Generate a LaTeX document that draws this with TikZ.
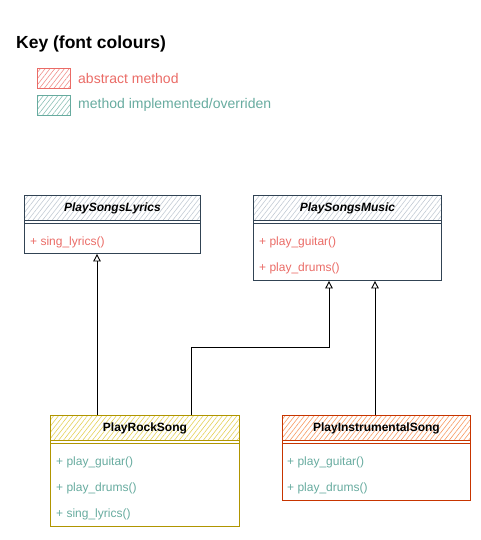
\documentclass[tikz,border=0pt]{standalone}
\usepackage{fontspec}
\setmainfont{Liberation Sans}
\usetikzlibrary{arrows.meta,patterns.meta}
\definecolor{absred}{HTML}{EA6B66}
\definecolor{impgreen}{HTML}{67AB9F}
\definecolor{blueStroke}{HTML}{314354}
\definecolor{blueHatch}{HTML}{C2CAD4}
\definecolor{yelStroke}{HTML}{B09500}
\definecolor{yelHatch}{HTML}{E4D158}
\definecolor{orStroke}{HTML}{C73500}
\definecolor{orHatch}{HTML}{F79A62}
\definecolor{redHatch}{HTML}{F08E8A}
\definecolor{greenHatch}{HTML}{8CC0B6}
\tikzset{
  box/.style={draw, line width=0.9pt, inner sep=0pt, anchor=north west, minimum width=#1},
  hdr/.style={draw, line width=0.9pt, inner sep=0pt, anchor=north west, minimum width=#1, minimum height=25pt,
     font=\bfseries\fontsize{12}{14}\selectfont},
  hatch/.style={pattern={Lines[angle=52,distance=3.8pt,line width=0.6pt]}, pattern color=#1},
  mem/.style={anchor=west, inner sep=0pt, font=\fontsize{12}{14}\selectfont},
  key/.style={anchor=west, inner sep=0pt, font=\fontsize{14}{16}\selectfont},
  swatch/.style={line width=0.8pt, inner sep=0pt, minimum width=33pt, minimum height=20pt, anchor=north west},
  inh/.style={draw=black, line width=0.9pt, -{Triangle[open, length=7.5pt, width=7.5pt, line width=0.9pt]}},
}
\begin{document}
\begin{tikzpicture}[x=1pt,y=-1pt]
\useasboundingbox (0,0) rectangle (480,540);

% Key
\node[anchor=west, inner sep=0pt, font=\bfseries\fontsize{17.5}{20}\selectfont] (title) at (16,44) {Key (font colours)};
\node[swatch, draw=absred, hatch=redHatch] (swR) at (37,68) {};
\node[key, text=absred] (keyR) at (78,78) {abstract method};
\node[swatch, draw=impgreen, hatch=greenHatch] (swG) at (37,95) {};
\node[key, text=impgreen] (keyG) at (78,105) {method implemented/overriden};

% PlaySongsLyrics
\node[box=176pt, draw=blueStroke, minimum height=58pt] (lyrics) at (24,195) {};
\node[hdr=176pt, draw=blueStroke, hatch=blueHatch] (lyricsH) at (24,195) {\textit{PlaySongsLyrics}};
\draw[blueStroke, line width=0.9pt] ([yshift=-3pt]lyricsH.south west) -- ([yshift=-3pt]lyricsH.south east);
\node[mem, text=absred] (lyricsM1) at (30,242) {+ sing\_lyrics()};

% PlaySongsMusic
\node[box=188pt, draw=blueStroke, minimum height=85pt] (music) at (253,195) {};
\node[hdr=188pt, draw=blueStroke, hatch=blueHatch] (musicH) at (253,195) {\textit{PlaySongsMusic}};
\draw[blueStroke, line width=0.9pt] ([yshift=-3pt]musicH.south west) -- ([yshift=-3pt]musicH.south east);
\node[mem, text=absred] (musicM1) at (259,242) {+ play\_guitar()};
\node[mem, text=absred] (musicM2) at (259,268) {+ play\_drums()};

% PlayRockSong
\node[box=189pt, draw=yelStroke, minimum height=111pt] (rock) at (50,415) {};
\node[hdr=189pt, draw=yelStroke, hatch=yelHatch] (rockH) at (50,415) {PlayRockSong};
\draw[yelStroke, line width=0.9pt] ([yshift=-3pt]rockH.south west) -- ([yshift=-3pt]rockH.south east);
\node[mem, text=impgreen] (rockM1) at (56,462) {+ play\_guitar()};
\node[mem, text=impgreen] (rockM2) at (56,488) {+ play\_drums()};
\node[mem, text=impgreen] (rockM3) at (56,514) {+ sing\_lyrics()};

% PlayInstrumentalSong
\node[box=188pt, draw=orStroke, minimum height=85pt] (instr) at (282,415) {};
\node[hdr=188pt, draw=orStroke, hatch=orHatch] (instrH) at (282,415) {PlayInstrumentalSong};
\draw[orStroke, line width=0.9pt] ([yshift=-3pt]instrH.south west) -- ([yshift=-3pt]instrH.south east);
\node[mem, text=impgreen] (instrM1) at (287,462) {+ play\_guitar()};
\node[mem, text=impgreen] (instrM2) at (287,488) {+ play\_drums()};

% Inheritance connectors
\coordinate (bend) at (329,347);
\draw[inh] (rockH.north -| 97,0) -- (lyrics.south -| 97,0);
\draw[inh] (rockH.north -| 191,0) |- (bend) -- (music.south -| bend);
\draw[inh] (instrH.north -| 375,0) -- (music.south -| 375,0);
\end{tikzpicture}
\end{document}
